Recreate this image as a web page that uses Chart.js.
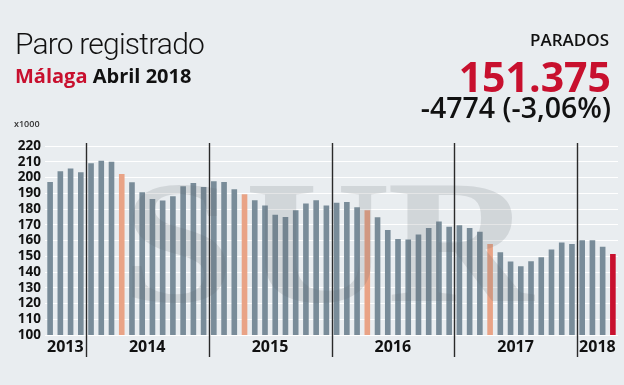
<!DOCTYPE html>
<html>
<head>
<meta charset="utf-8">
<script src="https://cdn.jsdelivr.net/npm/chart.js@4"></script>
<style>
body { margin: 0; background: #e9edf0; }
#wrap { position: relative; width: 624px; height: 385px; overflow: hidden; font-family: "Open Sans", sans-serif; color: #111; }
canvas { position: absolute; left: 0; top: 0; }
.t { position: absolute; line-height: 1; white-space: nowrap; }
#title { left: 15px; top: 29px; font-family: Roboto, sans-serif; font-weight: 300; font-size: 30px; letter-spacing: -0.8px; }
#sub { left: 15px; top: 66px; font-size: 20px; font-weight: 700; }
#sub span { color: #c8102e; }
#label { right: 15px; top: 31px; font-size: 17px; font-weight: 600; }
#total { right: 13px; top: 56px; font-size: 41px; font-weight: 700; color: #c8102e; }
#diff { right: 13px; top: 93px; font-size: 28.5px; font-weight: 600; }
#unit { left: 14px; top: 119px; font-size: 9px; font-weight: 600; color: #333; }
</style>
</head>
<body>
<div id="wrap">
  <canvas id="chart" width="624" height="385"></canvas>
  <div class="t" id="title">Paro registrado</div>
  <div class="t" id="sub"><span>Málaga</span> Abril 2018</div>
  <div class="t" id="label">PARADOS</div>
  <div class="t" id="total">151.375</div>
  <div class="t" id="diff">-4774 (-3,06%)</div>
  <div class="t" id="unit">x1000</div>
</div>
<script>
// parados en miles, desde septiembre 2013 hasta abril 2018
const years = [2013, 2014, 2015, 2016, 2017, 2018];
const months = [
    "sep", "oct", "nov", "dic",
    "ene", "feb", "mar", "abr", "may", "jun", "jul", "ago", "sep", "oct", "nov", "dic",
    "ene", "feb", "mar", "abr", "may", "jun", "jul", "ago", "sep", "oct", "nov", "dic",
    "ene", "feb", "mar", "abr", "may", "jun", "jul", "ago", "sep", "oct", "nov", "dic",
    "ene", "feb", "mar", "abr", "may", "jun", "jul", "ago", "sep", "oct", "nov", "dic",
    "ene", "feb", "mar", "abr"
];
const monthYear = [
    2013, 2013, 2013, 2013,
    2014, 2014, 2014, 2014, 2014, 2014, 2014, 2014, 2014, 2014, 2014, 2014,
    2015, 2015, 2015, 2015, 2015, 2015, 2015, 2015, 2015, 2015, 2015, 2015,
    2016, 2016, 2016, 2016, 2016, 2016, 2016, 2016, 2016, 2016, 2016, 2016,
    2017, 2017, 2017, 2017, 2017, 2017, 2017, 2017, 2017, 2017, 2017, 2017,
    2018, 2018, 2018, 2018
];
const parados = [
    197.2, 204.0, 205.7, 203.3,
    209.0, 210.7, 210.0, 202.3, 197.0, 190.7, 186.4, 185.4, 188.1, 194.5, 196.5, 194.0,
    197.6, 197.2, 192.6, 189.4, 185.6, 182.2, 176.3, 175.0, 179.2, 183.5, 185.6, 182.2,
    183.9, 184.5, 181.1, 179.2, 174.8, 166.6, 161.0, 160.7, 163.8, 167.9, 172.1, 168.7,
    169.7, 168.0, 165.5, 157.7, 152.6, 146.7, 143.7, 146.9, 149.4, 154.3, 158.8, 157.7,
    160.2, 160.2, 156.1, 151.4
];
const yTicks = [100, 110, 120, 130, 140, 150, 160, 170, 180, 190, 200, 210, 220];

const gris = "#798c99";
const naranja = "#e9a386";
const rojo = "#c8102e";

const last = parados.length - 1;
const colores = months.map((m, i) => i === last ? rojo : (m === "abr" ? naranja : gris));

// etiqueta del año en el centro de sus meses
const yearLabel = {};
years.forEach(y => {
    const idx = monthYear.map((v, i) => v === y ? i : -1).filter(i => i >= 0);
    yearLabel[idx[0] + Math.floor((idx.length - 1) / 2)] = String(y);
});

// lineas negras entre diciembre y enero
const separadores = {
    id: "separadores",
    afterDatasetsDraw(chart) {
        const x = chart.scales.x;
        const area = chart.chartArea;
        const ctx = chart.ctx;
        ctx.save();
        ctx.strokeStyle = "#2a2a2a";
        ctx.lineWidth = 1.4;
        months.forEach((m, i) => {
            if (m !== "ene" || i === 0) return;
            const px = Math.round((x.getPixelForValue(i - 1) + x.getPixelForValue(i)) / 2) + 0.5;
            ctx.beginPath();
            ctx.moveTo(px, area.top - 3);
            ctx.lineTo(px, area.bottom + 22);
            ctx.stroke();
        });
        ctx.restore();
    }
};

// marca de agua SUR
const marca = {
    id: "marca",
    afterDatasetsDraw(chart) {
        const ctx = chart.ctx;
        ctx.save();
        ctx.fillStyle = "rgba(95, 100, 105, 0.17)";
        ctx.font = "bold 176px 'Liberation Serif', serif";
        ctx.textAlign = "center";
        ctx.textBaseline = "alphabetic";
        [["S", 178], ["U", 318], ["R", 460]].forEach(([c, cx]) => {
            ctx.save();
            ctx.translate(cx, 301);
            ctx.scale(1.15, 1);
            ctx.fillText(c, 0, 0);
            ctx.restore();
        });
        ctx.restore();
    }
};

const ctx = document.getElementById("chart").getContext("2d");

new Chart(ctx, {
    type: "bar",
    data: {
        labels: months,
        datasets: [{
            data: parados,
            backgroundColor: colores,
            barPercentage: 0.55,
            categoryPercentage: 1
        }]
    },
    options: {
        responsive: false,
        animation: false,
        layout: { padding: { top: 146, right: 6, bottom: 20, left: 0 } },
        plugins: {
            legend: { display: false },
            tooltip: { enabled: false }
        },
        scales: {
            x: {
                grid: { display: false },
                border: { display: false },
                afterFit(scale) { scale.height = 30; },
                ticks: {
                    autoSkip: false,
                    maxRotation: 0,
                    labelOffset: 5,
                    padding: -5,
                    color: "#111",
                    font: { family: "'Open Sans'", size: 16, weight: "bold" },
                    callback: (v, i) => yearLabel[i] || ""
                }
            },
            y: {
                min: 100,
                max: 220,
                afterFit(scale) { scale.width = 45; },
                afterBuildTicks(scale) { scale.ticks = yTicks.map(v => ({ value: v })); },
                grid: { color: "#ffffff", lineWidth: 1, drawTicks: false },
                border: { display: false },
                ticks: {
                    autoSkip: false,
                    padding: 4,
                    color: "#111",
                    font: { family: "'Open Sans'", size: 13.5, weight: "bold" }
                }
            }
        }
    },
    plugins: [marca, separadores]
});
</script>
</body>
</html>
